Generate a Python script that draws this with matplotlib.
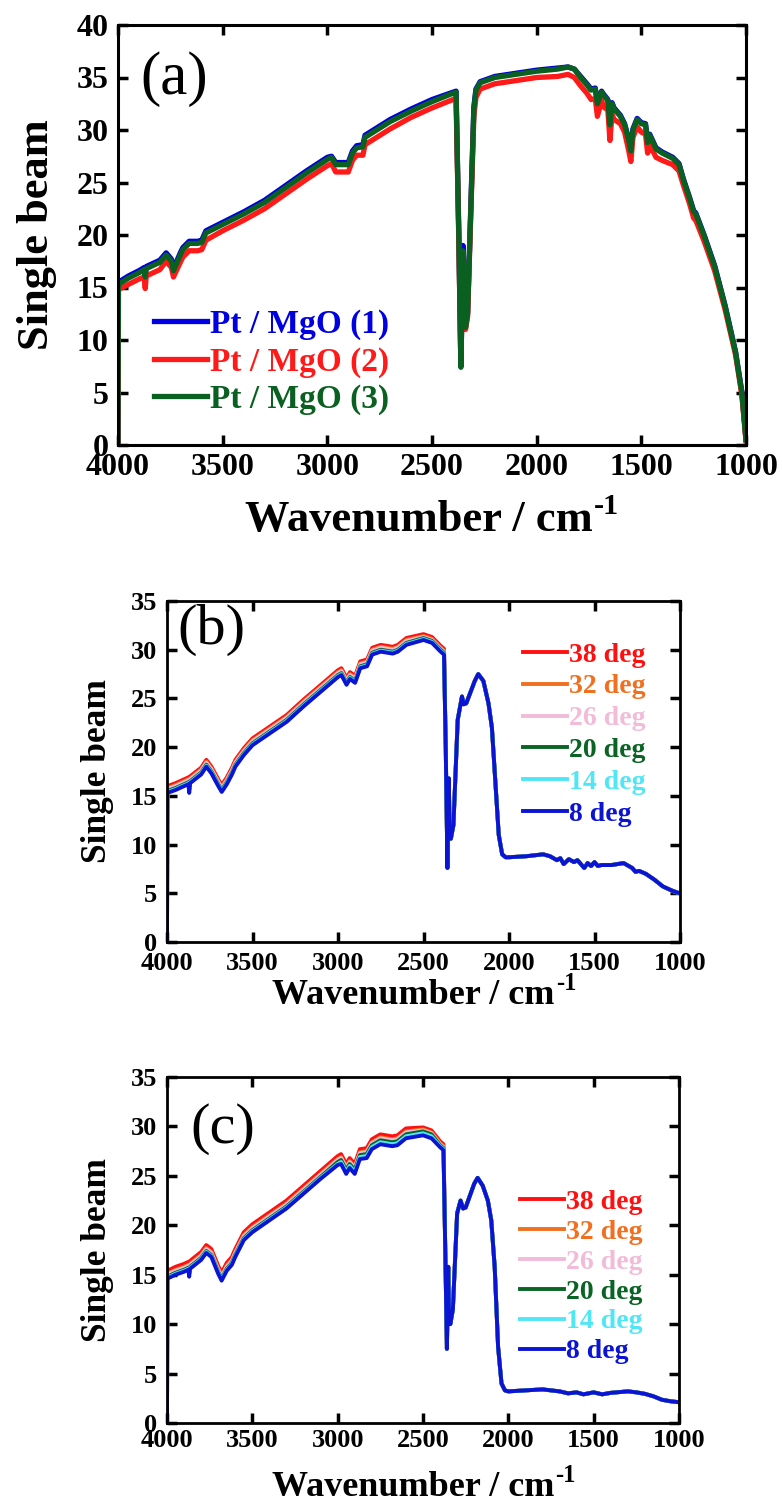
import numpy as np
import matplotlib
matplotlib.use('Agg')
import matplotlib.pyplot as plt

plt.rcParams['font.family'] = ['Liberation Serif', 'DejaVu Serif']

# ---------- panel (a): Pt / MgO, three measurements ----------
wn_a = [4000, 3998, 3950, 3900, 3875, 3870, 3865, 3800, 3770, 3745, 3735, 3700, 3690, 3660,
        3620, 3600, 3580, 3500, 3400, 3300, 3200, 3100, 3000, 2980, 2960, 2900, 2880, 2860,
        2830, 2820, 2700, 2600, 2500, 2400, 2385, 2372, 2362, 2352, 2348, 2340, 2330, 2300,
        2290, 2270, 2200, 2100, 2000, 1900, 1850, 1820, 1790, 1760, 1740, 1720, 1710, 1690,
        1680, 1660, 1650, 1640, 1630, 1600, 1580, 1560, 1550, 1540, 1520, 1500, 1480, 1470,
        1460, 1430, 1400, 1350, 1320, 1300, 1270, 1250, 1240, 1200, 1150, 1100, 1050, 1020, 1000]
a_green = [0, 15.3, 15.9, 16.4, 16.7, 16.0, 16.8, 17.4, 18.1, 17.5, 16.6, 18.2, 18.6, 19.2,
           19.2, 19.3, 20.2, 21.0, 22.0, 23.1, 24.5, 25.9, 27.2, 27.4, 26.7, 26.7, 27.8, 28.3,
           28.4, 29.3, 30.8, 31.8, 32.7, 33.5, 33.6, 20.0, 7.4, 18.5, 17.0, 11.2, 12.5, 32.0,
           33.8, 34.5, 35.0, 35.3, 35.6, 35.8, 36.0, 35.8, 35.0, 34.3, 33.8, 33.9, 32.5, 33.6,
           33.3, 32.8, 30.5, 32.5, 32.0, 31.3, 30.5, 29.0, 28.0, 30.0, 31.0, 30.6, 30.5, 28.8,
           29.5, 28.2, 27.8, 27.3, 26.7, 25.3, 23.5, 22.2, 22.0, 19.9, 17.0, 13.2, 8.8, 5.0, 0.5]
a_red = [0, 14.8, 15.3, 15.8, 16.0, 14.9, 16.1, 16.7, 17.5, 16.9, 16.0, 17.5, 17.9, 18.5,
         18.5, 18.6, 19.5, 20.4, 21.4, 22.5, 23.9, 25.3, 26.6, 26.8, 26.0, 26.0, 27.1, 27.6,
         27.6, 28.6, 30.1, 31.2, 32.1, 32.9, 33.0, 19.5, 7.6, 18.3, 16.5, 11.0, 12.2, 31.3,
         33.1, 33.9, 34.4, 34.7, 35.0, 35.1, 35.3, 35.0, 34.2, 33.5, 32.9, 33.0, 31.3, 32.8,
         32.2, 31.9, 29.0, 31.5, 31.0, 30.6, 29.8, 28.0, 27.0, 29.3, 30.3, 29.8, 29.6, 27.8,
         28.6, 27.4, 27.1, 26.7, 26.1, 24.8, 23.0, 21.6, 21.4, 19.4, 16.6, 12.9, 8.6, 4.8, 0.4]
a_blue = [0, 15.5, 16.1, 16.6, 16.9, 16.2, 17.0, 17.6, 18.3, 17.7, 16.8, 18.4, 18.8, 19.4,
          19.4, 19.5, 20.4, 21.2, 22.2, 23.3, 24.7, 26.1, 27.4, 27.5, 26.9, 26.9, 28.0, 28.5,
          28.6, 29.5, 31.0, 32.0, 32.9, 33.6, 33.7, 20.2, 7.5, 19.0, 17.2, 11.3, 12.6, 32.2,
          33.9, 34.6, 35.1, 35.4, 35.7, 35.9, 36.0, 35.8, 35.1, 34.4, 33.9, 34.0, 32.6, 33.7,
          33.4, 32.9, 30.6, 32.6, 32.1, 31.4, 30.6, 29.1, 28.1, 30.1, 31.1, 30.7, 30.6, 28.9,
          29.6, 28.3, 27.9, 27.4, 26.8, 25.4, 23.6, 22.3, 22.1, 20.0, 17.1, 13.3, 8.9, 5.1, 0.5]
labels_a = ['Pt / MgO (1)', 'Pt / MgO (2)', 'Pt / MgO (3)']
colors_a = ['#0000e0', '#ff1a1a', '#0a6020']

# ---------- panels (b), (c): six angles ----------
angles = ['38 deg', '32 deg', '26 deg', '20 deg', '14 deg', '8 deg']
colors_bc = ['#ff1010', '#f07020', '#f2bcd8', '#0a6424', '#50e6f5', '#0a14d2']

# region 4000-2380 where the curves are separated
wn_left = [4000, 3998, 3950, 3900, 3875, 3870, 3865, 3800, 3770, 3740, 3700, 3680, 3650, 3620,
           3600, 3550, 3500, 3400, 3300, 3200, 3100, 3000, 2980, 2950, 2930, 2900, 2870, 2830,
           2800, 2750, 2680, 2650, 2600, 2500, 2450, 2400, 2380]

b_left = {
    '8 deg':  [0, 15.3, 15.6, 16.0, 16.2, 15.3, 16.3, 17.2, 18.0, 17.3, 16.0, 15.4, 16.2, 17.2,
               18.0, 19.2, 20.2, 21.4, 22.6, 24.2, 25.7, 27.2, 27.4, 26.4, 27.0, 26.6, 28.1, 28.3,
               29.5, 29.8, 29.6, 29.8, 30.5, 31.0, 30.7, 29.8, 29.5],
    '14 deg': [0, 15.4, 15.7, 16.1, 16.3, 15.5, 16.4, 17.3, 18.1, 17.4, 16.1, 15.5, 16.3, 17.3,
               18.1, 19.3, 20.3, 21.5, 22.7, 24.3, 25.8, 27.3, 27.5, 26.5, 27.1, 26.7, 28.2, 28.4,
               29.6, 29.9, 29.7, 29.9, 30.6, 31.1, 30.8, 29.9, 29.6],
    '20 deg': [0, 15.5, 15.8, 16.2, 16.4, 15.7, 16.5, 17.4, 18.2, 17.5, 16.2, 15.6, 16.4, 17.4,
               18.2, 19.4, 20.4, 21.6, 22.8, 24.4, 25.9, 27.4, 27.6, 26.6, 27.2, 26.8, 28.3, 28.5,
               29.7, 30.0, 29.8, 30.0, 30.7, 31.2, 30.9, 30.0, 29.7],
    '26 deg': [0, 15.7, 16.0, 16.4, 16.6, 15.9, 16.7, 17.6, 18.4, 17.7, 16.4, 15.8, 16.6, 17.6,
               18.4, 19.6, 20.6, 21.8, 23.0, 24.6, 26.1, 27.6, 27.8, 26.8, 27.4, 27.0, 28.5, 28.7,
               29.9, 30.2, 30.0, 30.2, 30.9, 31.3, 31.0, 30.1, 29.8],
    '32 deg': [0, 15.8, 16.1, 16.5, 16.7, 16.0, 16.8, 17.7, 18.5, 17.8, 16.5, 15.9, 16.7, 17.7,
               18.5, 19.7, 20.7, 21.9, 23.1, 24.7, 26.2, 27.7, 27.9, 26.9, 27.5, 27.1, 28.6, 28.8,
               30.0, 30.3, 30.1, 30.3, 31.0, 31.4, 31.1, 30.2, 29.9],
    '38 deg': [0, 16.0, 16.3, 16.7, 16.9, 16.2, 17.0, 17.9, 18.7, 18.0, 16.7, 16.1, 16.9, 17.9,
               18.7, 19.9, 20.9, 22.1, 23.3, 24.9, 26.4, 27.9, 28.1, 27.1, 27.7, 27.3, 28.8, 29.0,
               30.2, 30.5, 30.3, 30.5, 31.2, 31.6, 31.3, 30.4, 30.1],
}
# region 2370-1000 where all angles overlap
wn_b_right = [2370, 2360, 2352, 2348, 2340, 2325, 2300, 2275, 2265, 2250, 2200, 2180, 2150, 2120,
              2100, 2080, 2060, 2040, 2020, 2000, 1900, 1800, 1760, 1720, 1700, 1680, 1650, 1620,
              1600, 1560, 1540, 1520, 1500, 1480, 1460, 1400, 1330, 1280, 1260, 1240, 1200, 1150,
              1100, 1050, 1020, 1000]
b_right = [20.0, 7.6, 16.8, 12.0, 10.6, 12.0, 22.8, 25.2, 24.4, 24.5, 26.8, 27.5, 26.8, 24.5,
           22.0, 16.5, 11.0, 9.0, 8.7, 8.7, 8.8, 9.0, 8.8, 8.4, 8.6, 8.0, 8.5, 8.2,
           8.4, 7.6, 8.1, 7.8, 8.2, 7.8, 7.9, 7.9, 8.1, 7.6, 7.2, 7.3, 7.0, 6.4,
           5.7, 5.3, 5.1, 5.0]

c_left = {
    '8 deg':  [0, 14.6, 15.0, 15.3, 15.5, 14.8, 15.6, 16.5, 17.2, 16.8, 15.1, 14.4, 15.4, 16.0,
               16.8, 18.5, 19.3, 20.5, 21.7, 23.2, 24.7, 26.1, 26.2, 25.2, 25.8, 25.2, 26.7, 26.8,
               27.7, 28.2, 28.0, 28.1, 28.8, 29.1, 28.8, 27.9, 27.6],
    '14 deg': [0, 14.7, 15.1, 15.4, 15.6, 15.0, 15.7, 16.6, 17.3, 16.9, 15.2, 14.5, 15.5, 16.1,
               16.9, 18.6, 19.4, 20.6, 21.8, 23.3, 24.8, 26.2, 26.4, 25.4, 26.0, 25.4, 26.9, 27.0,
               27.9, 28.4, 28.2, 28.3, 29.0, 29.3, 29.0, 28.0, 27.7],
    '20 deg': [0, 14.8, 15.2, 15.5, 15.7, 15.1, 15.8, 16.7, 17.4, 17.0, 15.3, 14.6, 15.6, 16.2,
               17.0, 18.7, 19.5, 20.7, 21.9, 23.4, 24.9, 26.4, 26.6, 25.6, 26.2, 25.6, 27.1, 27.2,
               28.1, 28.6, 28.4, 28.5, 29.2, 29.5, 29.2, 28.1, 27.8],
    '26 deg': [0, 15.0, 15.4, 15.7, 15.9, 15.3, 16.0, 16.9, 17.6, 17.2, 15.5, 14.8, 15.8, 16.4,
               17.2, 18.9, 19.7, 20.9, 22.1, 23.6, 25.1, 26.6, 26.8, 25.8, 26.4, 25.8, 27.3, 27.4,
               28.3, 28.8, 28.6, 28.7, 29.4, 29.6, 29.3, 28.2, 27.9],
    '32 deg': [0, 15.1, 15.5, 15.8, 16.0, 15.4, 16.1, 17.0, 17.7, 17.3, 15.6, 14.9, 15.9, 16.5,
               17.3, 19.0, 19.8, 21.0, 22.2, 23.7, 25.2, 26.7, 26.9, 25.9, 26.5, 25.9, 27.4, 27.5,
               28.4, 28.9, 28.7, 28.8, 29.5, 29.7, 29.4, 28.3, 28.0],
    '38 deg': [0, 15.4, 15.8, 16.1, 16.3, 15.7, 16.4, 17.3, 18.0, 17.6, 15.9, 15.2, 16.2, 16.8,
               17.6, 19.3, 20.1, 21.3, 22.5, 24.0, 25.5, 27.0, 27.2, 26.2, 26.8, 26.2, 27.7, 27.8,
               28.7, 29.2, 29.0, 29.1, 29.8, 29.9, 29.6, 28.5, 28.2],
}
wn_c_right = [2370, 2360, 2352, 2348, 2340, 2325, 2300, 2280, 2265, 2250, 2200, 2180, 2150, 2120,
              2100, 2080, 2060, 2040, 2020, 2000, 1900, 1800, 1700, 1650, 1600, 1560, 1500, 1450,
              1400, 1300, 1250, 1200, 1150, 1100, 1050, 1000]
c_right = [18.0, 7.5, 15.8, 11.0, 10.0, 11.5, 21.2, 22.5, 21.7, 21.8, 24.2, 24.8, 24.0, 22.5,
           20.5, 15.8, 7.7, 4.0, 3.3, 3.2, 3.3, 3.4, 3.2, 3.0, 3.1, 2.9, 3.1, 2.9,
           3.05, 3.2, 3.1, 2.95, 2.7, 2.35, 2.2, 2.1]

W, H = 782, 1501
fig = plt.figure(figsize=(W / 100, H / 100), dpi=100)


def px_axes(l, t, r, b):
    return fig.add_axes([l / W, 1 - b / H, (r - l) / W, (b - t) / H])


def style(ax, ymax, tick_fs, ylab_fs, xlab_fs, ypad, xpad, tpad, xlab_x, lw_sp):
    ax.set_xlim(4000, 1000)
    ax.set_ylim(0, ymax)
    ax.set_xticks(np.arange(4000, 999, -500))
    ax.set_yticks(np.arange(0, ymax + 1, 5))
    ax.tick_params(direction='in', top=True, right=True, length=7, width=2.5,
                   labelsize=tick_fs, pad=7)
    ax.tick_params(axis='x', pad=tpad)
    for lab in ax.get_xticklabels() + ax.get_yticklabels():
        lab.set_fontweight('bold')
    for s in ax.spines.values():
        s.set_linewidth(lw_sp)
    ax.set_ylabel('Single beam', fontsize=ylab_fs, fontweight='bold', labelpad=ypad)
    ax.set_xlabel('Wavenumber / cm', fontsize=xlab_fs, fontweight='bold', labelpad=xpad,
                  x=xlab_x)
    # superscript -1 after "cm"
    ax.annotate('-1', xy=(1, 1), xycoords=ax.xaxis.label, xytext=(1, 5),
                textcoords='offset points', ha='left', va='top',
                fontsize=xlab_fs * 0.68, fontweight='bold')


# (a)
ax1 = px_axes(118, 25, 746, 445)
for y, lab, c in zip([a_blue, a_red, a_green], labels_a, colors_a):
    ax1.plot(wn_a, y, color=c, lw=3.8, label=lab)
style(ax1, 40, 23, 32, 32, 14, 13, 6, 0.479, 2.2)
ax1.text(0.035, 0.87, '(a)', transform=ax1.transAxes, fontsize=44, va='center')
ax1.legend(loc='lower left', bbox_to_anchor=(0.03, 0.031), frameon=False,
           handlelength=1.6, handletextpad=0.1, labelspacing=0.19, borderpad=0,
           labelcolor='linecolor', prop={'weight': 'bold', 'size': 24})

# (b)
ax2 = px_axes(167, 601, 680, 942)
for ang, c in zip(angles, colors_bc):
    ax2.plot(wn_left + wn_b_right, b_left[ang] + b_right, color=c, lw=2.8, label=ang)
style(ax2, 35, 19, 25.5, 26, 12, 3, 7, 0.48, 2.0)
ax2.text(0.02, 0.915, '(b)', transform=ax2.transAxes, fontsize=42, va='center')
ax2.legend(loc='upper left', bbox_to_anchor=(0.666, 0.92), frameon=False,
           handlelength=1.6, handletextpad=0.08, labelspacing=0.23, borderpad=0,
           labelcolor='linecolor', prop={'weight': 'bold', 'size': 20})

# (c)
ax3 = px_axes(167, 1077, 679, 1423)
for ang, c in zip(angles, colors_bc):
    ax3.plot(wn_left + wn_c_right, c_left[ang] + c_right, color=c, lw=2.8, label=ang)
style(ax3, 35, 19, 25.5, 26, 12, 14, 4, 0.48, 2.0)
ax3.text(0.045, 0.85, '(c)', transform=ax3.transAxes, fontsize=42, va='center')
ax3.legend(loc='upper left', bbox_to_anchor=(0.662, 0.715), frameon=False,
           handlelength=1.6, handletextpad=0.08, labelspacing=0.16, borderpad=0,
           labelcolor='linecolor', prop={'weight': 'bold', 'size': 20})

fig.savefig('out.png', dpi=100)
